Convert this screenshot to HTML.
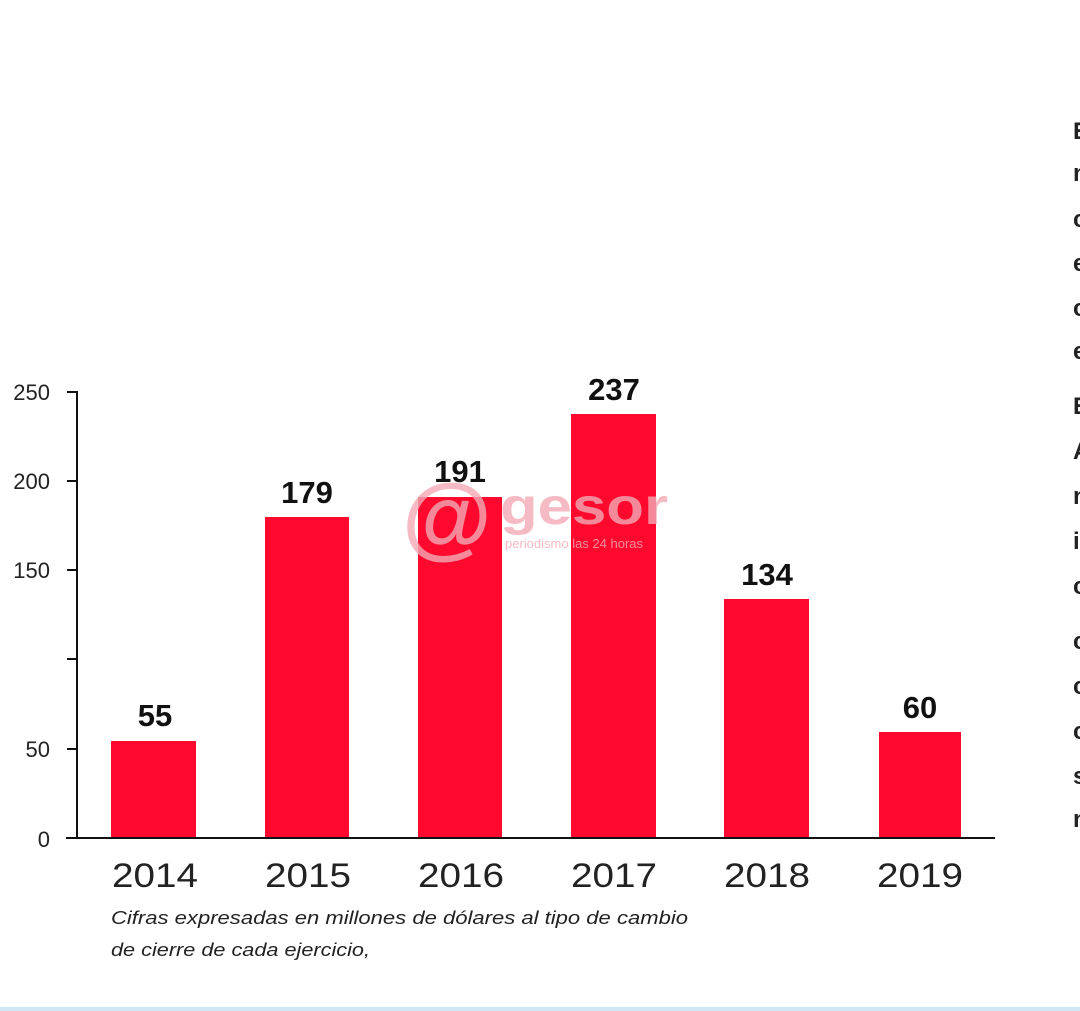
<!DOCTYPE html>
<html><head><meta charset="utf-8"><style>
html,body{margin:0;padding:0;background:#fff;width:1080px;height:1011px;overflow:hidden}
svg{display:block}
</style></head><body>
<svg width="1080" height="1011" viewBox="0 0 1080 1011" xmlns="http://www.w3.org/2000/svg">
<rect width="1080" height="1011" fill="#fff"/>
<g fill="#ff0a2e">
<rect x="111" y="741" width="85" height="97"/>
<rect x="265" y="517" width="84" height="321"/>
<rect x="418" y="497" width="84" height="341"/>
<rect x="571" y="414" width="85" height="424"/>
<rect x="724" y="599" width="85" height="239"/>
<rect x="879" y="732" width="82" height="106"/>
</g>
<g stroke="#111" stroke-width="2">
<line x1="77" y1="391" x2="77" y2="838"/>
<line x1="66" y1="838" x2="995" y2="838"/>
<line x1="67" y1="392" x2="77" y2="392"/>
<line x1="67" y1="481" x2="77" y2="481"/>
<line x1="67" y1="570" x2="77" y2="570"/>
<line x1="67" y1="659" x2="77" y2="659"/>
<line x1="67" y1="749" x2="77" y2="749"/>
</g>
<g font-family="Liberation Sans, sans-serif" font-size="22" fill="#222" text-anchor="end">
<text x="50" y="400">250</text>
<text x="50" y="489">200</text>
<text x="50" y="578">150</text>
<text x="50" y="757">50</text>
<text x="50" y="847">0</text>
</g>
<g font-family="Liberation Sans, sans-serif" font-size="31" font-weight="bold" fill="#111" text-anchor="middle">
<text x="155" y="726">55</text>
<text x="307" y="503">179</text>
<text x="460" y="482">191</text>
<text x="614" y="400">237</text>
<text x="767" y="585">134</text>
<text x="920" y="718">60</text>
</g>
<g font-family="Liberation Sans, sans-serif" font-size="34" fill="#222" text-anchor="middle">
<text x="155" y="887" textLength="86" lengthAdjust="spacingAndGlyphs">2014</text>
<text x="308" y="887" textLength="86" lengthAdjust="spacingAndGlyphs">2015</text>
<text x="461" y="887" textLength="86" lengthAdjust="spacingAndGlyphs">2016</text>
<text x="614" y="887" textLength="86" lengthAdjust="spacingAndGlyphs">2017</text>
<text x="767" y="887" textLength="86" lengthAdjust="spacingAndGlyphs">2018</text>
<text x="920" y="887" textLength="86" lengthAdjust="spacingAndGlyphs">2019</text>
</g>
<g font-family="Liberation Sans, sans-serif" font-size="18" font-style="italic" fill="#222">
<text x="111" y="924" textLength="577" lengthAdjust="spacingAndGlyphs">Cifras expresadas en millones de dólares al tipo de cambio</text>
<text x="111" y="956" textLength="259" lengthAdjust="spacingAndGlyphs">de cierre de cada ejercicio,</text>
</g>
<g font-family="Liberation Sans, sans-serif" fill="#f3a9b5" opacity="0.8">
<text x="402" y="548" font-size="92" font-weight="bold">@</text>
<text x="500" y="524" font-size="52" font-weight="bold" textLength="168" lengthAdjust="spacingAndGlyphs">gesor</text>
<text x="505" y="548" font-size="13">periodismo las 24 horas</text>
</g>
<g font-family="Liberation Sans, sans-serif" font-size="24" font-weight="bold" fill="#222">
<text x="1073" y="139">E</text>
<text x="1073" y="181">n</text>
<text x="1073" y="227">c</text>
<text x="1073" y="271">e</text>
<text x="1073" y="316">c</text>
<text x="1073" y="359">e</text>
<text x="1073" y="414">E</text>
<text x="1073" y="459">A</text>
<text x="1073" y="504">n</text>
<text x="1073" y="549">i</text>
<text x="1073" y="594">c</text>
<text x="1073" y="649">c</text>
<text x="1073" y="694">c</text>
<text x="1073" y="739">c</text>
<text x="1073" y="784">s</text>
<text x="1073" y="827">n</text>
</g>
<rect x="0" y="1007" width="1080" height="4" fill="#cfe6f5"/>
</svg>
</body></html>
